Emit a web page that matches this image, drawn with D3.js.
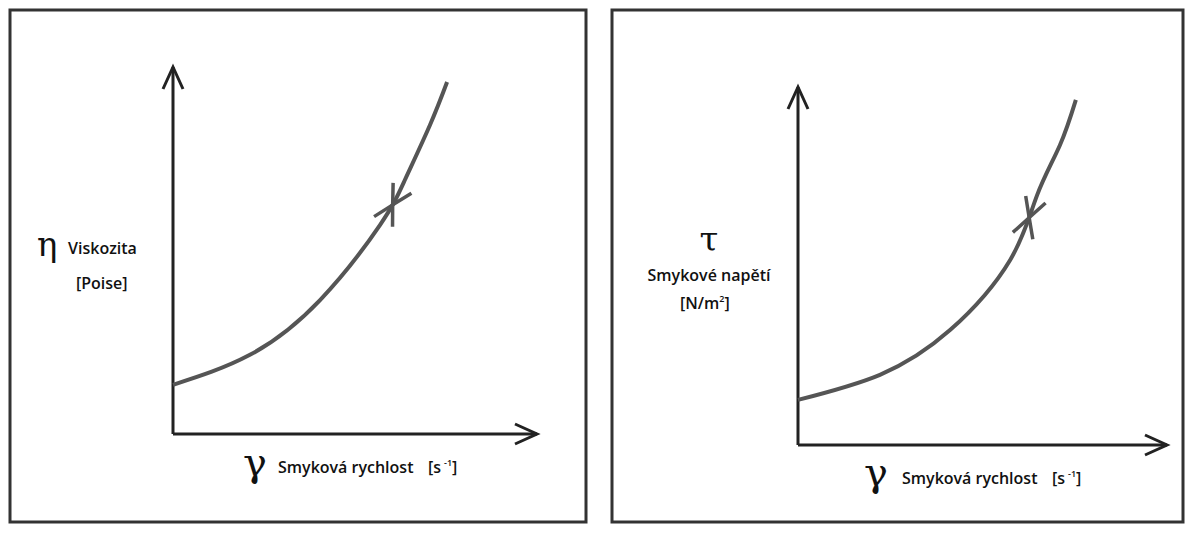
<!DOCTYPE html>
<html><head><meta charset="utf-8">
<script src="https://cdn.jsdelivr.net/npm/d3@7"></script>
<style>body{margin:0;background:#fff}</style></head>
<body><svg id="c" width="1193" height="535"></svg>
<script>
const curveLeftX = [0, 2.1, 4.04, 5.69, 6.37, 7.06, 7.53];
const curveLeftY = [1.34, 2.15, 3.65, 5.7, 6.92, 8.42, 9.59];
const curveRightX = [0, 2.22, 4.12, 5.75, 6.48, 7.1, 7.53];
const curveRightY = [1.26, 1.96, 3.21, 5.17, 6.98, 8.38, 9.64];

const panels = [
  {box:[10,10,576,512], ox:173, oy:434, xe:537, yt:67, xs:curveLeftX, ys:curveLeftY, tipY:205,
   labels:[
    {t:"η", x:37, y:256, s:34, serif:true},
    {t:"Viskozita", x:68, y:254, s:16, bold:true},
    {t:"[Poise]", x:76, y:289, s:16, bold:true},
    {t:"γ", x:243, y:476, s:40, serif:true},
    {t:"Smyková rychlost", x:278, y:473, s:16, bold:true, unit:true, ux:428}]},
  {box:[612,10,571,512], ox:798, oy:445, xe:1167, yt:87, xs:curveRightX, ys:curveRightY, tipY:218,
   labels:[
    {t:"τ", x:709, y:251, s:34, serif:true, anchor:"middle"},
    {t:"Smykové napětí", x:709, y:281, s:16, bold:true, anchor:"middle"},
    {t:"[N/m", x:680, y:309, s:16, bold:true, sup:"2", end:"]"},
    {t:"γ", x:864, y:486, s:40, serif:true},
    {t:"Smyková rychlost", x:902, y:484, s:16, bold:true, unit:true, ux:1052}]}
];
const svg = d3.select("#c");
panels.forEach(p=>{
  const g = svg.append("g");
  g.append("rect").attr("x",p.box[0]).attr("y",p.box[1]).attr("width",p.box[2]).attr("height",p.box[3])
   .attr("fill","none").attr("stroke","#333").attr("stroke-width",3);
  const x = d3.scaleLinear().domain([0,10]).range([p.ox,p.xe]);
  const y = d3.scaleLinear().domain([0,10]).range([p.oy,p.yt]);
  const line = (pts)=>g.append("path").attr("d",d3.line()(pts)).attr("stroke","#222").attr("stroke-width",3).attr("fill","none");
  line([[x(0),y(0)],[x(0),y(10)]]);
  line([[x(0),y(0)],[x(10),y(0)]]);
  line([[x(0)-10,y(10)+22],[x(0),y(10)],[x(0)+10,y(10)+22]]);
  line([[x(10)-22,y(0)-10],[x(10),y(0)],[x(10)-22,y(0)+10]]);
  const pts = p.xs.map((v,i)=>[x(v),y(p.ys[i])]);
  const path = g.append("path").attr("d",d3.line().curve(d3.curveNatural)(pts))
    .attr("fill","none").attr("stroke","#555").attr("stroke-width",4);
  const node = path.node(), L = node.getTotalLength();
  // find length where curve reaches tipY
  let L0=0; for(let l=0;l<L;l+=0.5){ if(node.getPointAtLength(l).y<=p.tipY){L0=l;break;} }
  const chevron=(len,dir)=>{
    const a=node.getPointAtLength(len), b=node.getPointAtLength(len+dir*3);
    const ang=Math.atan2(b.y-a.y,b.x-a.x);
    const bars=[0.5,-0.5].map(o=>[a.x-Math.cos(ang+o)*22,a.y-Math.sin(ang+o)*22]);
    g.append("path").attr("d",d3.line()([bars[0],[a.x,a.y],bars[1]]))
     .attr("fill","none").attr("stroke","#555").attr("stroke-width",3.5);
  };
  chevron(L0,1);
  chevron(L0,-1);
  p.labels.forEach(l=>{
    const t=g.append("text").attr("x",l.x).attr("y",l.y).attr("font-size",l.s)
     .attr("font-family",l.serif?"DejaVu Serif, serif":"Open Sans, sans-serif")
     .attr("font-weight",l.bold?600:400).attr("fill","#111")
     .attr("text-anchor",l.anchor||"start");
    t.append("tspan").text(l.t);
    if(l.sup){t.append("tspan").attr("font-size",9).attr("dy",-7).text(l.sup);
      t.append("tspan").attr("dy",7).text(l.end);}
    if(l.unit){
      const u=g.append("text").attr("x",l.ux).attr("y",l.y).attr("font-size",16)
       .attr("font-family","Open Sans, sans-serif").attr("font-weight",600).attr("fill","#111");
      u.append("tspan").text("[s");
      u.append("tspan").attr("font-size",9).attr("dx",3).attr("dy",-7).text("-1");
      u.append("tspan").attr("dy",7).text("]");
    }
  });
});
</script></body></html>
